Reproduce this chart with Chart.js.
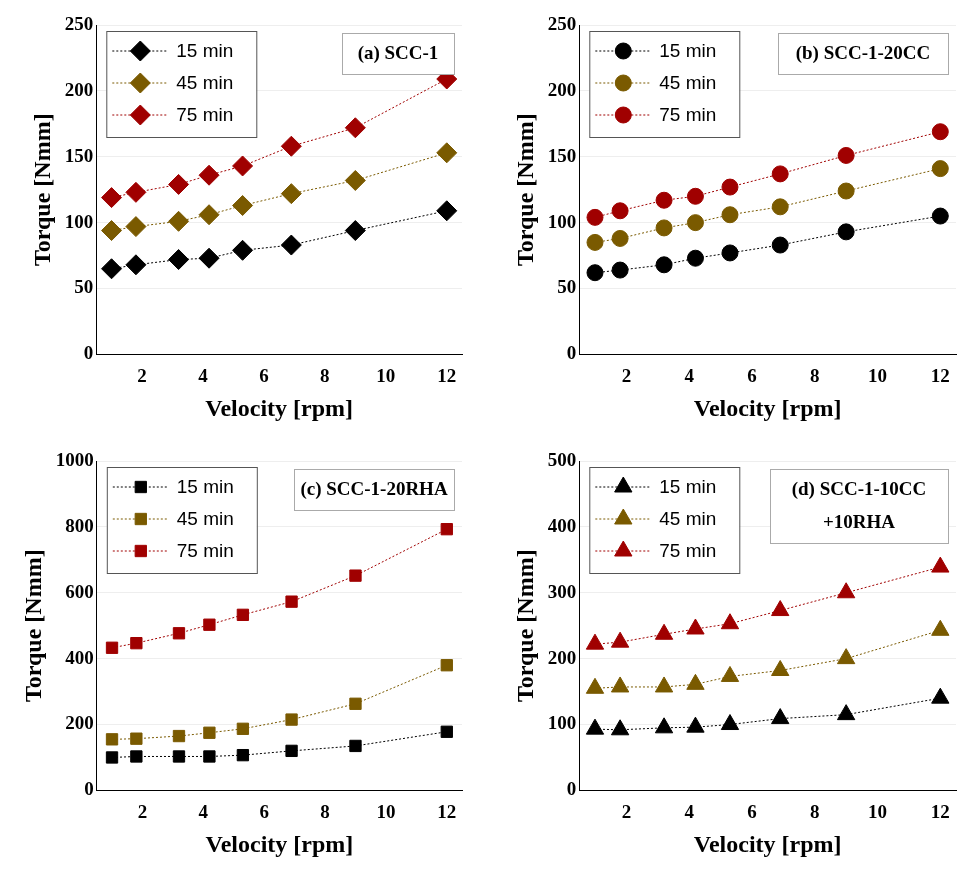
<!DOCTYPE html>
<html><head><meta charset="utf-8">
<script src="https://cdn.jsdelivr.net/npm/chart.js@4"></script>
<style>
body{margin:0;background:#fff;}
.c{position:absolute;width:484px;height:436px;}
</style></head><body>
<div class="c" style="left:0;top:0"><canvas id="a"></canvas></div>
<div class="c" style="left:484px;top:0"><canvas id="b"></canvas></div>
<div class="c" style="left:0;top:436px"><canvas id="c"></canvas></div>
<div class="c" style="left:484px;top:436px"><canvas id="d"></canvas></div>
<script>
var velocity = [1, 1.8, 3.2, 4.2, 5.3, 6.9, 9, 12];
var seriesNames = ['15 min', '45 min', '75 min'];
var colors = ['#000000', '#7a5a00', '#a00000'];

var scc1_15 = [65, 68, 72, 73, 79, 83, 94, 109];
var scc1_45 = [94, 97, 101, 106, 113, 122, 132, 153];
var scc1_75 = [119, 123, 129, 136, 143, 158, 172, 209];

var cc_15 = [62, 64, 68, 73, 77, 83, 93, 105];
var cc_45 = [85, 88, 96, 100, 106, 112, 124, 141];
var cc_75 = [104, 109, 117, 120, 127, 137, 151, 169];

var rha_15 = [100, 103, 103, 103, 107, 120, 135, 178];
var rha_45 = [155, 157, 165, 175, 187, 215, 263, 380];
var rha_75 = [433, 447, 477, 503, 533, 573, 652, 793];

var mix_15 = [93, 92, 95, 96, 100, 109, 115, 140];
var mix_45 = [155, 157, 157, 161, 173, 182, 200, 243];
var mix_75 = [222, 225, 237, 245, 253, 273, 300, 339];

var xTicks = [2, 4, 6, 8, 10, 12];

var boxPlugin = {
    id: 'boxes',
    afterDraw: function(chart) {
        var ctx = chart.ctx, o = chart.options.plugins.boxes, area = chart.chartArea;
        ctx.save();
        // legend
        var lx = area.left + 10, ly = area.top + 6;
        ctx.strokeStyle = '#555'; ctx.lineWidth = 1;
        ctx.fillStyle = '#fff';
        ctx.fillRect(lx, ly, 150, 106);
        ctx.strokeRect(lx + 0.5, ly + 0.5, 150, 106);
        chart.data.datasets.forEach(function(ds, i) {
            var y = ly + 20 + i * 32;
            ctx.strokeStyle = ds.borderColor; ctx.setLineDash([2, 2]);
            ctx.beginPath(); ctx.moveTo(lx + 6, y); ctx.lineTo(lx + 62, y); ctx.stroke();
            ctx.setLineDash([]);
            ctx.fillStyle = ds.backgroundColor; ctx.strokeStyle = ds.backgroundColor;
            Chart.helpers.drawPoint(ctx, {pointStyle: ds.pointStyle, radius: o.r, borderWidth: 1}, lx + 34, y);
            ctx.fillStyle = '#000'; ctx.font = '19px "Liberation Sans"';
            ctx.textBaseline = 'middle';
            ctx.fillText(ds.label, lx + 70, y + 1);
        });
        // title box
        ctx.font = 'bold 19px "Liberation Serif"';
        var w = o.w, h = o.lines.length * 33 + 8;
        var tx = area.right - w - 8;
        var ty = area.top + 8;
        ctx.fillStyle = '#fff'; ctx.fillRect(tx, ty, w, h);
        ctx.strokeStyle = '#aaa'; ctx.strokeRect(tx + 0.5, ty + 0.5, w, h);
        ctx.fillStyle = '#000'; ctx.textAlign = 'center';
        o.lines.forEach(function(t, i) { ctx.fillText(t, tx + w / 2, ty + 21 + i * 33); });
        ctx.restore();
    }
};

function makeChart(id, d15, d45, d75, style, yMax, yStep, lines, w, padLeft, padRight, r) {
    var all = [d15, d45, d75];
    new Chart(document.getElementById(id), {
        type: 'scatter',
        data: {
            datasets: all.map(function(d, i) {
                return {
                    label: seriesNames[i],
                    data: velocity.map(function(v, k) { return {x: v, y: d[k]}; }),
                    showLine: true,
                    clip: false,
                    borderColor: colors[i],
                    backgroundColor: colors[i],
                    borderWidth: 1,
                    borderDash: [2, 2],
                    pointStyle: style,
                    pointRadius: r,
                    pointBorderWidth: 1
                };
            })
        },
        options: {
            responsive: true, maintainAspectRatio: false, animation: false,
            layout: {padding: {top: 25, right: padRight, left: padLeft, bottom: 8}},
            plugins: {legend: {display: false}, tooltip: {enabled: false},
                boxes: {lines: lines, w: w, r: r}},
            scales: {
                x: {
                    min: 0.5, max: 12.5,
                    afterBuildTicks: function(s) { s.ticks = xTicks.map(function(v) { return {value: v}; }); },
                    grid: {display: false},
                    border: {color: '#000', width: 1},
                    ticks: {color: '#000', font: {family: 'Liberation Serif', weight: 'bold', size: 19}},
                    title: {display: true, text: 'Velocity [rpm]', color: '#000', font: {family: 'Liberation Serif', weight: 'bold', size: 24}}
                },
                y: {
                    min: 0, max: yMax,
                    ticks: {stepSize: yStep, color: '#000', callback: function(v) { return String(v); },
                        font: {family: 'Liberation Serif', weight: 'bold', size: 19}},
                    grid: {color: '#eeeeee', drawTicks: false},
                    border: {color: '#000', width: 1},
                    title: {display: true, text: 'Torque [Nmm]', color: '#000', font: {family: 'Liberation Serif', weight: 'bold', size: 24}}
                }
            }
        },
        plugins: [boxPlugin]
    });
}

makeChart('a', scc1_15, scc1_45, scc1_75, 'rectRot', 250, 50, ['(a) SCC-1'], 112, 25, 22, 10);
makeChart('b', cc_15, cc_45, cc_75, 'circle', 250, 50, ['(b) SCC-1-20CC'], 170, 24, 12, 8);
makeChart('c', rha_15, rha_45, rha_75, 'rect', 1000, 200, ['(c) SCC-1-20RHA'], 160, 16, 22, 8);
makeChart('d', mix_15, mix_45, mix_75, 'triangle', 500, 100, ['(d) SCC-1-10CC', '+10RHA'], 178, 24, 12, 10);
</script>
</body></html>
